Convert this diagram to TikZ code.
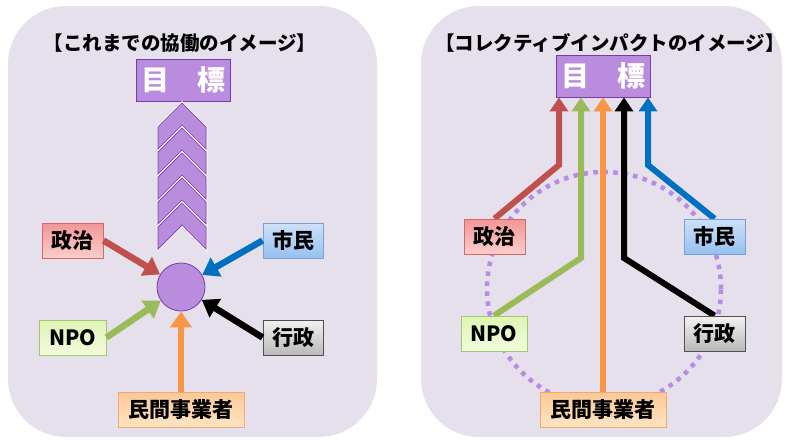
\documentclass[tikz,border=0pt]{standalone}
\usepackage{fontspec}
\setmainfont{Noto Sans CJK JP}
\usetikzlibrary{arrows.meta}
\pgfdeclarelayer{bgzero}
\pgfdeclarelayer{bgone}
\pgfsetlayers{bgzero,bgone,main}
\definecolor{panelbg}{RGB}{229,224,236}
\definecolor{goalfill}{RGB}{186,140,222}
\definecolor{goaldraw}{RGB}{120,60,170}
\definecolor{chevgap}{RGB}{244,240,248}
\definecolor{arred}{RGB}{192,80,77}
\definecolor{arblue}{RGB}{0,112,192}
\definecolor{argreen}{RGB}{155,187,89}
\definecolor{arorange}{RGB}{247,150,70}
\definecolor{dotpurple}{RGB}{182,140,228}
\tikzset{
  panel/.style={fill=panelbg, draw=none, rounded corners=58pt},
  ttl/.style={font=\bfseries\fontsize{19.5}{22}\selectfont, inner sep=0pt},
  goalbox/.style={fill=goalfill, draw=goaldraw, line width=0.8pt, minimum width=94pt, minimum height=42pt, inner sep=0pt, text=white, font=\bfseries\fontsize{28}{30}\selectfont},
  lbl/.style={minimum height=35pt, inner sep=0pt, line width=0.8pt, font=\bfseries\fontsize{21}{23}\selectfont, text=black},
  seijibox/.style={lbl, top color={rgb,255:red,242;green,150;blue,150}, bottom color={rgb,255:red,251;green,205;blue,205}, draw={rgb,255:red,210;green,105;blue,105}},
  shiminbox/.style={lbl, top color={rgb,255:red,205;green,225;blue,248}, bottom color={rgb,255:red,150;green,192;blue,238}, draw={rgb,255:red,120;green,160;blue,210}},
  npobox/.style={lbl, top color={rgb,255:red,222;green,244;blue,180}, bottom color={rgb,255:red,242;green,251;blue,220}, draw={rgb,255:red,160;green,200;blue,110}},
  gyoseibox/.style={lbl, top color={rgb,255:red,242;green,242;blue,242}, bottom color={rgb,255:red,185;green,185;blue,185}, draw={rgb,255:red,80;green,80;blue,80}},
  minbox/.style={lbl, top color={rgb,255:red,250;green,200;blue,150}, bottom color={rgb,255:red,253;green,228;blue,195}, draw={rgb,255:red,240;green,170;blue,110}},
  chevback/.style={draw=chevgap, line width=3pt, line join=miter},
  chev/.style={fill=goalfill, draw=goaldraw, line width=0.7pt, line join=miter},
  arr/.style={line width=6.5pt, -{Triangle[width=21pt,length=16pt]}},
  arrR/.style={line width=6pt, line join=miter, -{Triangle[width=18pt,length=14pt]}},
}
\begin{document}
\begin{tikzpicture}[x=1pt, y=-1pt]
\useasboundingbox (0,0) rectangle (786,439);
\begin{pgfonlayer}{bgzero}
\fill[white] (0,0) rectangle (786,439);
\fill[panel] (8,6) rectangle (377,437);
\fill[panel] (421,6) rectangle (782,437);
\node[circle, minimum size=234pt, inner sep=0pt, draw=dotpurple, line width=4.5pt, dash pattern=on 4.5pt off 5.5pt] (dotc) at (604,289) {};
\end{pgfonlayer}

% ---------- left panel ----------
\node[ttl] (titleL) at (180,43) {【これまでの協働のイメージ】};
\node[goalbox] (goalL) at (183,80) {目　標};
\foreach \a in {103,128,153,178,203} {
  \draw[chevback] (182,\a) -- (206,\a+24) -- (206,\a+46) -- (182,\a+22) -- (158,\a+46) -- (158,\a+24) -- cycle;
  \draw[chev] (182,\a) -- (206,\a+24) -- (206,\a+46) -- (182,\a+22) -- (158,\a+46) -- (158,\a+24) -- cycle;
}
\node[circle, minimum size=48pt, inner sep=0pt, fill=goalfill, draw=goaldraw, line width=0.8pt] (circ) at (181,287) {};

\node[seijibox, minimum width=61pt] (seijiL) at (72.5,240.5) {政治};
\node[shiminbox, minimum width=60pt] (shiminL) at (293,240.5) {市民};
\node[npobox, minimum width=67pt] (npoL) at (72.5,337.5) {NPO};
\node[gyoseibox, minimum width=60pt] (gyoseiL) at (293,337.5) {行政};
\node[minbox, minimum width=126pt] (minL) at (181,409.5) {民間事業者};

\draw[arr, arred] (seijiL.east) -- (circ);
\draw[arr, arblue] (shiminL.west) -- (circ);
\draw[arr, argreen] (npoL.east) -- (circ);
\draw[arr, black] (gyoseiL.west) -- (circ);
\draw[arr, arorange] (minL.north) -- (circ.south);

% ---------- right panel ----------
\node[ttl] (titleR) at (610,43) {【コレクティブインパクトのイメージ】};
\node[goalbox] (goalR) at (603,76) {目　標};

\node[seijibox, minimum width=61pt] (seijiR) at (494.5,236.5) {政治};
\node[shiminbox, minimum width=61pt] (shiminR) at (714.5,236.5) {市民};
\node[npobox, minimum width=66pt] (npoR) at (494,333.5) {NPO};
\node[gyoseibox, minimum width=61pt] (gyoseiR) at (714.5,333.5) {行政};
\node[minbox, minimum width=126pt] (minR) at (603,409.5) {民間事業者};

\coordinate (bR) at (559,165);
\coordinate (bG) at (581,258);
\coordinate (bK) at (624,258);
\coordinate (bB) at (648,165);
\begin{pgfonlayer}{bgone}
\draw[arrR, arred] (seijiR.north) -- (bR) -- (bR |- goalR.south);
\draw[arrR, argreen] (npoR.north) -- (bG) -- (bG |- goalR.south);
\draw[arrR, arorange] (minR.north) -- (minR.north |- goalR.south);
\draw[arrR, black] (gyoseiR.north) -- (bK) -- (bK |- goalR.south);
\draw[arrR, arblue] (shiminR.north) -- (bB) -- (bB |- goalR.south);
\end{pgfonlayer}
\end{tikzpicture}
\end{document}
